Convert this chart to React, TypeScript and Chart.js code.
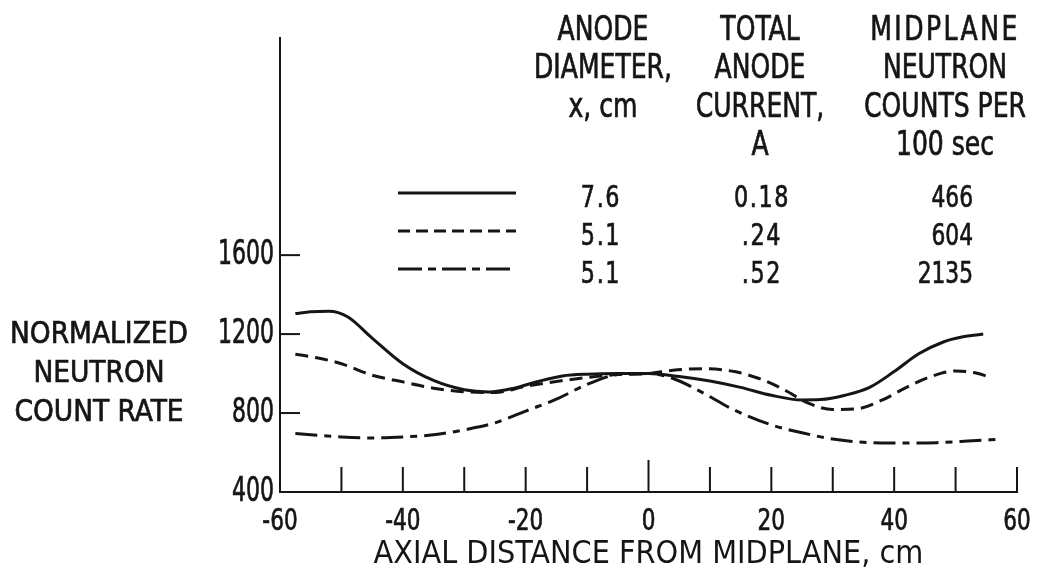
import React, { useEffect, useRef } from "react";
import { Chart, registerables, LinearScale } from "chart.js";

// ---- data ----
const solidX = [-57.5, -55, -52, -49, -45, -40, -35, -30, -26, -22, -18, -14, -10, -5, 0, 5, 10, 15, 20, 25, 28, 32, 36, 40, 44, 48, 51, 54.5];
const solidY = [1304, 1313, 1316, 1288, 1180, 1050, 965, 918, 907, 925, 960, 988, 997, 1000, 1000, 985, 962, 930, 890, 866, 868, 890, 930, 1010, 1100, 1160, 1185, 1200];

const dashedX = [-57.5, -54, -50, -45, -40, -35, -30, -25, -20, -15, -10, -5, 0, 4, 9, 14, 18, 22, 26, 30, 34, 38, 42, 46, 50, 53, 55.5];
const dashedY = [1098, 1080, 1050, 992, 958, 926, 908, 904, 935, 960, 980, 995, 1000, 1017, 1025, 1010, 975, 920, 850, 818, 822, 865, 930, 985, 1013, 1005, 983];

const dashDotX = [-57.5, -50, -45, -40, -35, -30, -25, -20, -15, -10, -5, 0, 4, 9, 14, 20, 25, 30, 35, 39, 43, 47, 52, 56.5];
const dashDotY = [696, 679, 674, 679, 690, 715, 750, 810, 870, 945, 995, 1000, 975, 900, 815, 740, 700, 668, 652, 648, 648, 650, 658, 666];

const xLabelTicks = [-60, -40, -20, 0, 20, 40, 60];
const xMarkTicks = [-50, -40, -30, -20, -10, 0, 10, 20, 30, 40, 50, 60];
const yLabelTicks = [400, 800, 1200, 1600];
const yMarkTicks = [800, 1200, 1600];

const anodeDiameter = ["7.6", "5.1", "5.1"];
const anodeCurrent = ["0.18", ".24", ".52"];
const midplaneCounts = ["466", "604", "2135"];

const header1 = ["ANODE", "DIAMETER,", "x, cm"];
const header2 = ["TOTAL", "ANODE", "CURRENT,", "A"];
const header3 = ["MIDPLANE", "NEUTRON", "COUNTS PER", "100 sec"];

const yTitleLines = ["NORMALIZED", "NEUTRON", "COUNT RATE"];
const xTitle = "AXIAL DISTANCE FROM MIDPLANE, cm";

const FONT = '"DejaVu Sans Condensed", "DejaVu Sans", sans-serif';
const INK = "#151515";
const TEXT_STROKE = 0.7;

const dashPatterns: number[][] = [[], [13, 7], [22, 7, 7, 7]];
const legendDash: number[][] = [[], [12, 6], [24, 6, 8, 6]];

// horizontal compression of tick labels per axis (the original uses a narrow typeface)
const TICK_SQUEEZE: Record<string, number> = { x: 0.8, y: 0.72 };

class NarrowLinearScale extends (LinearScale as any) {
  static id = "narrowLinear";
  static defaults = (LinearScale as any).defaults;
  afterFit() {
    const self: any = this;
    super.afterFit && super.afterFit();
    self.paddingLeft = 0;
    self.paddingRight = 0;
    self.paddingTop = 0;
    self.paddingBottom = 0;
  }
  drawLabels(chartArea: any) {
    const self: any = this;
    if (!self.options.ticks.display) return;
    const ctx: CanvasRenderingContext2D = self.ctx;
    const sx = TICK_SQUEEZE[self.id] ?? 1;
    const items = self.getLabelItems(chartArea);
    for (const item of items) {
      const o = item.options;
      ctx.save();
      ctx.translate(o.translation[0], o.translation[1]);
      if (o.rotation) ctx.rotate(o.rotation);
      ctx.scale(sx, 1);
      ctx.font = item.font.string;
      ctx.fillStyle = o.color;
      ctx.strokeStyle = o.color;
      ctx.lineWidth = TEXT_STROKE;
      ctx.textAlign = o.textAlign;
      ctx.textBaseline = o.textBaseline;
      const lines = Array.isArray(item.label) ? item.label : [item.label];
      lines.forEach((l: string, i: number) => {
        const yy = item.textOffset + i * item.font.lineHeight;
        ctx.fillText(String(l), 0, yy);
        ctx.strokeText(String(l), 0, yy);
      });
      ctx.restore();
    }
  }
}

Chart.register(...registerables, NarrowLinearScale as any);

const toPts = (xs: number[], ys: number[]) => xs.map((x, i) => ({ x, y: ys[i] }));

function txt(
  ctx: CanvasRenderingContext2D,
  t: string,
  x: number,
  y: number,
  size: number,
  sx: number,
  align: CanvasTextAlign,
  spacing = 0
) {
  ctx.save();
  ctx.translate(x, y);
  ctx.scale(sx, 1);
  ctx.font = `${size}px ${FONT}`;
  (ctx as any).letterSpacing = `${spacing}px`;
  ctx.textAlign = align;
  ctx.textBaseline = "alphabetic";
  ctx.fillStyle = INK;
  ctx.strokeStyle = INK;
  ctx.lineWidth = TEXT_STROKE;
  ctx.fillText(t, 0, 0);
  ctx.strokeText(t, 0, 0);
  ctx.restore();
}

const decorPlugin = {
  id: "decor",
  afterDraw(chart: any) {
    const ctx = chart.ctx as CanvasRenderingContext2D;
    const xs = chart.scales.x;
    const ys = chart.scales.y;
    const area = chart.chartArea;
    ctx.save();
    ctx.strokeStyle = INK;
    ctx.lineWidth = 2;
    // inward tick marks
    yMarkTicks.forEach((v) => {
      const py = ys.getPixelForValue(v);
      ctx.beginPath();
      ctx.moveTo(area.left, py);
      ctx.lineTo(area.left + 20, py);
      ctx.stroke();
    });
    xMarkTicks.forEach((v) => {
      const px = xs.getPixelForValue(v);
      ctx.beginPath();
      ctx.moveTo(px, area.bottom);
      ctx.lineTo(px, area.bottom - (v === 0 ? 32 : 25));
      ctx.stroke();
    });
    ctx.restore();

    // y title
    const yTitleBase = [343, 382, 421];
    yTitleLines.forEach((t, i) => txt(ctx, t, 99, yTitleBase[i], 31, 0.95, "center"));

    // legend headers
    const headBase = [40, 78, 117, 155];
    const colX = [603, 760, 945];
    [header1, header2, header3].forEach((lines, c) => {
      lines.forEach((t, i) =>
        txt(ctx, t, colX[c], headBase[i], 34, 0.82, "center", t === "MIDPLANE" ? 3 : 0)
      );
    });

    // legend rows
    const rowBase = [207, 245, 283];
    const lineY = [193, 231, 269];
    rowBase.forEach((by, i) => {
      txt(ctx, anodeDiameter[i], 601, by, 31, 0.8, "center", 2);
      txt(ctx, anodeCurrent[i], 762, by, 31, 0.8, "center", 2);
      txt(ctx, midplaneCounts[i], 973, by, 31, 0.78, "right");
      ctx.save();
      ctx.strokeStyle = INK;
      ctx.lineWidth = 3;
      ctx.setLineDash(legendDash[i]);
      ctx.beginPath();
      ctx.moveTo(398, lineY[i]);
      ctx.lineTo(516, lineY[i]);
      ctx.stroke();
      ctx.restore();
    });
  },
};

export default function App() {
  const ref = useRef<HTMLCanvasElement | null>(null);
  useEffect(() => {
    if (!ref.current) return;
    const chart = new Chart(ref.current, {
      type: "line",
      data: {
        datasets: [
          { label: "7.6 cm, 0.18 A, 466", data: toPts(solidX, solidY) },
          { label: "5.1 cm, .24 A, 604", data: toPts(dashedX, dashedY) },
          { label: "5.1 cm, .52 A, 2135", data: toPts(dashDotX, dashDotY) },
        ].map((d, i) => ({
          ...d,
          borderColor: INK,
          borderWidth: 3,
          borderDash: dashPatterns[i],
          pointRadius: 0,
          fill: false,
          cubicInterpolationMode: "monotone" as const,
        })),
      },
      options: {
        responsive: false,
        animation: false,
        layout: { padding: { left: 0, right: 20, top: 38, bottom: 0 } },
        plugins: { legend: { display: false }, tooltip: { enabled: false } },
        scales: {
          x: {
            type: "narrowLinear" as any,
            min: -60,
            max: 60,
            grid: { display: false, drawTicks: false },
            border: { display: true, color: INK, width: 2 },
            afterBuildTicks: (s: any) => {
              s.ticks = xLabelTicks.map((v) => ({ value: v }));
            },
            afterFit: (s: any) => {
              s.height = 82;
            },
            ticks: {
              autoSkip: false,
              maxRotation: 0,
              padding: 12,
              color: INK,
              font: { family: FONT, size: 30 },
              callback: (v: any) => String(v),
            },
            title: {
              display: true,
              text: xTitle,
              color: INK,
              font: { family: FONT, size: 32 },
              padding: { top: 0, bottom: 0 },
            },
          } as any,
          y: {
            type: "narrowLinear" as any,
            min: 400,
            max: 2700,
            grid: { display: false, drawTicks: false },
            border: { display: true, color: INK, width: 2 },
            afterBuildTicks: (s: any) => {
              s.ticks = yLabelTicks.map((v) => ({ value: v }));
            },
            afterFit: (s: any) => {
              s.width = 280;
            },
            ticks: {
              autoSkip: false,
              padding: 6,
              color: INK,
              font: { family: FONT, size: 34 },
              callback: (v: any) => String(v),
            },
          } as any,
        },
      },
      plugins: [decorPlugin],
    });
    return () => chart.destroy();
  }, []);
  return (
    <div style={{ position: "fixed", left: 0, top: 0, width: 1037, height: 574, background: "#fff" }}>
      <canvas ref={ref} width={1037} height={574} />
    </div>
  );
}
